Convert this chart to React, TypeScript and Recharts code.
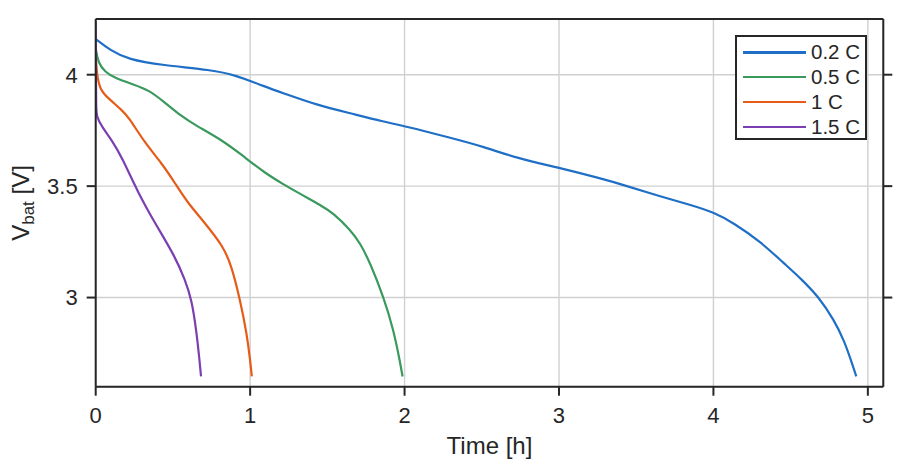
import {
  CartesianGrid,
  Label,
  Line,
  LineChart,
  XAxis,
  YAxis,
} from "recharts"

type Pt = { t: number; v: number }

const xTicks = [0, 1, 2, 3, 4, 5]
const yTicks = [3, 3.5, 4]

const rate02: Pt[] = [
  { t: 0, v: 4.16 }, { t: 0.093, v: 4.11 }, { t: 0.211, v: 4.068 },
  { t: 0.428, v: 4.043 }, { t: 0.752, v: 4.021 }, { t: 0.903, v: 3.999 },
  { t: 1.097, v: 3.946 }, { t: 1.216, v: 3.917 }, { t: 1.432, v: 3.864 },
  { t: 1.648, v: 3.827 }, { t: 1.864, v: 3.789 }, { t: 2.0, v: 3.77 },
  { t: 2.296, v: 3.717 }, { t: 2.512, v: 3.677 }, { t: 2.728, v: 3.625 },
  { t: 3.0, v: 3.583 }, { t: 3.268, v: 3.535 }, { t: 3.42, v: 3.505 },
  { t: 3.657, v: 3.453 }, { t: 3.852, v: 3.416 }, { t: 4.007, v: 3.381 },
  { t: 4.132, v: 3.334 }, { t: 4.305, v: 3.251 }, { t: 4.456, v: 3.154 },
  { t: 4.564, v: 3.087 }, { t: 4.683, v: 3.002 }, { t: 4.78, v: 2.9 },
  { t: 4.845, v: 2.81 }, { t: 4.9, v: 2.7 }, { t: 4.925, v: 2.646 },
]

const rate05: Pt[] = [
  { t: 0, v: 4.118 }, { t: 0.017, v: 4.051 }, { t: 0.06, v: 4.013 },
  { t: 0.125, v: 3.984 }, { t: 0.255, v: 3.954 }, { t: 0.341, v: 3.931 },
  { t: 0.428, v: 3.887 }, { t: 0.557, v: 3.812 }, { t: 0.644, v: 3.774 },
  { t: 0.817, v: 3.707 }, { t: 0.946, v: 3.64 }, { t: 1.097, v: 3.558 },
  { t: 1.216, v: 3.508 }, { t: 1.324, v: 3.465 }, { t: 1.454, v: 3.416 },
  { t: 1.54, v: 3.378 }, { t: 1.648, v: 3.304 }, { t: 1.713, v: 3.244 },
  { t: 1.778, v: 3.154 }, { t: 1.864, v: 3.002 }, { t: 1.929, v: 2.855 },
  { t: 1.972, v: 2.706 }, { t: 1.987, v: 2.646 },
]

const rate1: Pt[] = [
  { t: 0, v: 4.1 }, { t: 0.006, v: 4.006 }, { t: 0.028, v: 3.931 },
  { t: 0.082, v: 3.894 }, { t: 0.168, v: 3.842 }, { t: 0.211, v: 3.812 },
  { t: 0.32, v: 3.692 }, { t: 0.428, v: 3.603 }, { t: 0.514, v: 3.513 },
  { t: 0.59, v: 3.43 }, { t: 0.708, v: 3.334 }, { t: 0.827, v: 3.229 },
  { t: 0.881, v: 3.139 }, { t: 0.935, v: 2.989 }, { t: 0.978, v: 2.84 },
  { t: 1.0, v: 2.72 }, { t: 1.011, v: 2.646 },
]

const rate15: Pt[] = [
  { t: 0, v: 4.24 }, { t: 0.001, v: 4.0 }, { t: 0.003, v: 3.85 },
  { t: 0.006, v: 3.812 }, { t: 0.039, v: 3.767 }, { t: 0.104, v: 3.707 },
  { t: 0.168, v: 3.632 }, { t: 0.276, v: 3.468 }, { t: 0.384, v: 3.334 },
  { t: 0.514, v: 3.184 }, { t: 0.579, v: 3.079 }, { t: 0.622, v: 2.99 },
  { t: 0.654, v: 2.84 }, { t: 0.672, v: 2.72 }, { t: 0.682, v: 2.646 },
]

const series = [
  { name: "0.2 C", data: rate02, color: "#1f6fc6" },
  { name: "0.5 C", data: rate05, color: "#3a9a5e" },
  { name: "1 C", data: rate1, color: "#e45c17" },
  { name: "1.5 C", data: rate15, color: "#7b3fb2" },
]

const ink = "#262626"
const font = "Arial, 'Liberation Sans', sans-serif"

const NoLabel = () => <g />

function LegendBox() {
  return (
    <div
      style={{
        position: "absolute",
        left: 735,
        top: 35,
        width: 132,
        height: 105,
        border: `2px solid ${ink}`,
        background: "#fff",
        boxSizing: "border-box",
        paddingTop: 3,
      }}
    >
      {series.map((s) => (
        <div key={s.name} style={{ display: "flex", alignItems: "center", height: 24.8 }}>
          <div style={{ width: 63, height: 2.4, background: s.color, marginLeft: 6 }} />
          <span style={{ marginLeft: 5, fontSize: 20.5, color: ink, fontFamily: font, lineHeight: 1 }}>
            {s.name}
          </span>
        </div>
      ))}
    </div>
  )
}

export default function App() {
  return (
    <div style={{ position: "absolute", left: 0, top: 0, width: 902, height: 469, background: "#fff" }}>
      <LineChart
        width={902}
        height={469}
        margin={{ top: 18, right: 17.7, bottom: 0, left: 0 }}
        style={{ fontFamily: font }}
      >
        <CartesianGrid xAxisId="b" yAxisId="l" stroke="#d0d0d0" strokeWidth={1.4} />
        <XAxis
          xAxisId="b"
          type="number"
          dataKey="t"
          domain={[0, 5.1]}
          ticks={xTicks}
          height={82.3}
          tickSize={9}
          tickMargin={12}
          axisLine={{ stroke: ink, strokeWidth: 2 }}
          tickLine={{ stroke: ink, strokeWidth: 2 }}
          tick={{ fill: ink, fontSize: 22 }}
          allowDataOverflow
        >
          <Label value="Time [h]" position="insideBottom" offset={15} fill={ink} fontSize={24} />
        </XAxis>
        <XAxis
          xAxisId="t"
          orientation="top"
          type="number"
          domain={[0, 5.1]}
          ticks={xTicks}
          height={1}
          tickSize={9}
          axisLine={{ stroke: ink, strokeWidth: 2 }}
          tickLine={{ stroke: ink, strokeWidth: 2 }}
          tick={NoLabel}
          allowDataOverflow
        />
        <YAxis
          yAxisId="l"
          type="number"
          domain={[2.6, 4.25]}
          ticks={yTicks}
          width={95.7}
          tickSize={9}
          tickMargin={9}
          axisLine={{ stroke: ink, strokeWidth: 2 }}
          tickLine={{ stroke: ink, strokeWidth: 2 }}
          tick={{ fill: ink, fontSize: 22 }}
          allowDataOverflow
        >
          <Label
            content={() => (
              <text
                x={29}
                y={203}
                transform="rotate(-90 29 203)"
                textAnchor="middle"
                fill={ink}
                fontSize={24}
                fontFamily={font}
              >
                V<tspan fontSize={17} dy={5}>bat</tspan>
                <tspan dy={-5}> [V]</tspan>
              </text>
            )}
          />
        </YAxis>
        <YAxis
          yAxisId="r"
          orientation="right"
          type="number"
          domain={[2.6, 4.25]}
          ticks={yTicks}
          width={1}
          tickSize={9}
          axisLine={{ stroke: ink, strokeWidth: 2 }}
          tickLine={{ stroke: ink, strokeWidth: 2 }}
          tick={NoLabel}
          allowDataOverflow
        />
        {series.map((s) => (
          <Line
            key={s.name}
            xAxisId="b"
            yAxisId="l"
            data={s.data}
            dataKey="v"
            name={s.name}
            type="basis"
            stroke={s.color}
            strokeWidth={2.2}
            dot={false}
            isAnimationActive={false}
          />
        ))}
      </LineChart>
      <LegendBox />
    </div>
  )
}
